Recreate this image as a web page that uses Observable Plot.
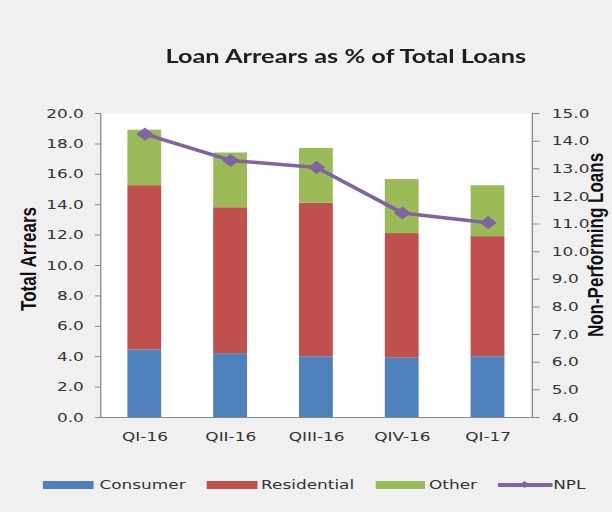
<!DOCTYPE html>
<html><head><meta charset="utf-8">
<script src="https://cdn.jsdelivr.net/npm/d3@7"></script>
<script src="https://cdn.jsdelivr.net/npm/@observablehq/plot@0.6"></script>
<style>
html,body{margin:0;padding:0;background:#f0f0f0;}
#page{position:relative;width:471px;height:512px;transform:scaleX(1.3);transform-origin:0 0;background:#f0f0f0;}
#title{position:absolute;left:0;width:532px;top:44px;text-align:center;font-family:Lato,"Open Sans",sans-serif;font-weight:700;font-size:19.5px;color:#1e1e1e;white-space:nowrap;}
#chart{position:absolute;left:0;top:90px;}
.ytitle{position:absolute;font-family:"Liberation Sans",Arial,sans-serif;font-weight:700;font-size:17px;line-height:18px;color:#111;white-space:nowrap;transform:translate(-50%,-50%) rotate(-90deg);}
#legend{position:absolute;left:0;top:460px;width:471px;height:52px;font-family:"DejaVu Sans",Verdana,sans-serif;font-size:13px;color:#333;}
.sw{position:absolute;top:21px;height:8px;}
.lt{position:absolute;top:16px;line-height:18px;white-space:nowrap;}
</style></head>
<body>
<div id="page">
  <div id="title">Loan Arrears as % of Total Loans</div>
  <div id="chart"></div>
  <div class="ytitle" style="left:23px;top:259px;">Total Arrears</div>
  <div class="ytitle" style="left:459px;top:245px;">Non-Performing Loans</div>
  <div id="legend"></div>
</div>
<script>
const categories = ["QI-16", "QII-16", "QIII-16", "QIV-16", "QI-17"];
const consumer = [4.45, 4.2, 4.0, 3.9, 4.0];
const residential = [10.8, 9.6, 10.1, 8.2, 7.9];
const other = [3.65, 3.6, 3.6, 3.55, 3.35];
const npl = [14.25, 13.3, 13.05, 11.4, 11.05];
const leftTicks = [0, 2, 4, 6, 8, 10, 12, 14, 16, 18, 20];
const rightTicks = [4, 5, 6, 7, 8, 9, 10, 11, 12, 13, 14, 15];
const series = ["Consumer", "Residential", "Other"];
const seriesColors = ["#4f81bd", "#c0504d", "#9bbb59"];
const nplLabel = "NPL";
const nplColor = "#8064a2";

const seriesValues = [consumer, residential, other];
const rows = categories.flatMap((q, i) => series.map((s, k) => ({q, s, v: seriesValues[k][i]})));
// right axis (4..15) mapped onto left scale (0..20)
const toLeft = v => (v - 4) * 20 / 11;
const fromLeft = d => d * 11 / 20 + 4;
const lineRows = categories.map((q, i) => ({q, y: toLeft(npl[i])}));

const chart = Plot.plot({
  width: 471, height: 370,
  marginTop: 23, marginBottom: 43, marginLeft: 77, marginRight: 62,
  style: {fontFamily: "DejaVu Sans, Verdana, sans-serif", fontSize: "13px", background: "transparent", color: "#333"},
  x: {domain: categories, paddingInner: 0.6, paddingOuter: 0.3, label: null},
  y: {domain: [0, 20], label: null},
  color: {domain: series, range: seriesColors},
  marks: [
    Plot.frame({fill: "white", stroke: null}),
    Plot.barY(rows, {x: "q", y: "v", fill: "s"}),
    Plot.frame({anchor: "left", stroke: "#888"}),
    Plot.frame({anchor: "right", stroke: "#888"}),
    Plot.frame({anchor: "bottom", stroke: "#888"}),
    Plot.axisY(leftTicks, {anchor: "left", tickFormat: d => d.toFixed(1), tickSize: 4, tickPadding: 9, stroke: "#888", fill: "#333", label: null}),
    Plot.axisY(rightTicks.map(toLeft), {anchor: "right", tickFormat: d => fromLeft(d).toFixed(1), tickSize: 5, tickPadding: 10, stroke: "#888", fill: "#333", label: null}),
    Plot.axisX({tickSize: 0, tickPadding: 14, fill: "#333", label: null}),
    Plot.line(lineRows, {x: "q", y: "y", stroke: nplColor, strokeWidth: 3.5}),
    Plot.dot(lineRows, {x: "q", y: "y", symbol: "diamond2", r: 5, fill: nplColor, stroke: nplColor})
  ]
});
document.getElementById("chart").appendChild(chart);

// legend
const legend = document.getElementById("legend");
const pos = [[33.3, 76.5], [159.2, 200.8], [288.5, 330]];
series.forEach((s, k) => {
  const sw = document.createElement("div");
  sw.className = "sw";
  sw.style.left = pos[k][0] + "px";
  sw.style.width = "38.5px";
  sw.style.background = seriesColors[k];
  legend.appendChild(sw);
  const t = document.createElement("div");
  t.className = "lt";
  t.style.left = pos[k][1] + "px";
  t.textContent = s;
  legend.appendChild(t);
});
const ln = document.createElement("div");
ln.style.cssText = `position:absolute;left:383px;top:23px;width:41.5px;height:3.5px;background:${nplColor};`;
legend.appendChild(ln);
const dm = document.createElement("div");
dm.style.cssText = `position:absolute;left:400.5px;top:21.5px;width:5px;height:5px;background:${nplColor};transform:rotate(45deg);`;
legend.appendChild(dm);
const nt = document.createElement("div");
nt.className = "lt";
nt.style.left = "425.5px";
nt.textContent = nplLabel;
legend.appendChild(nt);
</script>
</body></html>
